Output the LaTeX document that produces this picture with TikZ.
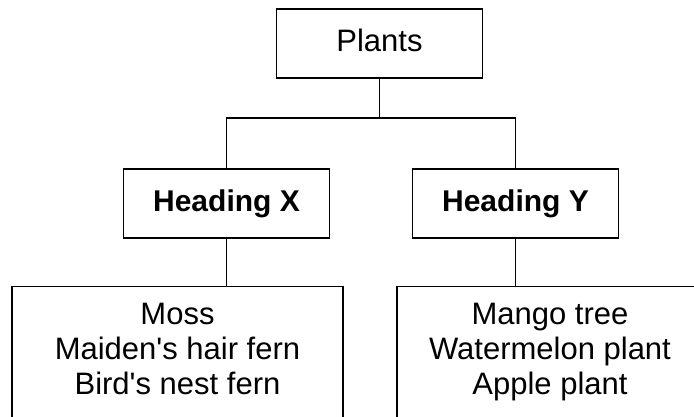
\documentclass[tikz,border=0pt]{standalone}
\usepackage{fontspec}
\setmainfont{Liberation Sans}
\usetikzlibrary{positioning}
\begin{document}
\begin{tikzpicture}[auto,node distance=160pt,line width=1.4pt]
    \tikzstyle{block} = [draw,rectangle,minimum width=206pt,minimum height=69pt,text height=22pt,text depth=6pt]
    \tikzstyle{leaf} = [draw,rectangle,inner xsep=0pt,inner ysep=17pt,font=\fontsize{31}{35}\selectfont]
    \clip (0pt,0pt) rectangle (694pt,-416pt);
    \node [block,font=\fontsize{31}{35}\selectfont] (plants) at (379.5pt,-43.5pt) {Plants};
    \node [block,below of=plants,xshift=-153pt,font=\bfseries\fontsize{30}{35}\selectfont] (headX) {Heading X};
    \node [block,below of=plants,xshift=136pt,font=\bfseries\fontsize{30}{35}\selectfont] (headY) {Heading Y};
    \coordinate [below of=plants,node distance=74.5pt] (split);
    \node [leaf,below of=headX,node distance=175pt,xshift=-49pt] (ferns)
        {\parbox[c][150pt][t]{331pt}{\selectfont\centering Moss\\Maiden\textquotesingle s hair fern\\Bird\textquotesingle s nest fern}};
    \node [leaf,below of=headY,node distance=175pt,xshift=34.5pt] (fruits)
        {\parbox[c][150pt][t]{306pt}{\selectfont\centering Mango tree\\Watermelon plant\\Apple plant}};

    \draw (plants) -- (split);
    \draw (headX) |- (split) -| (headY);
    \draw (headX) -- (headX|-ferns.north);
    \draw (headY) -- (headY|-fruits.north);
  \end{tikzpicture}
\end{document}
